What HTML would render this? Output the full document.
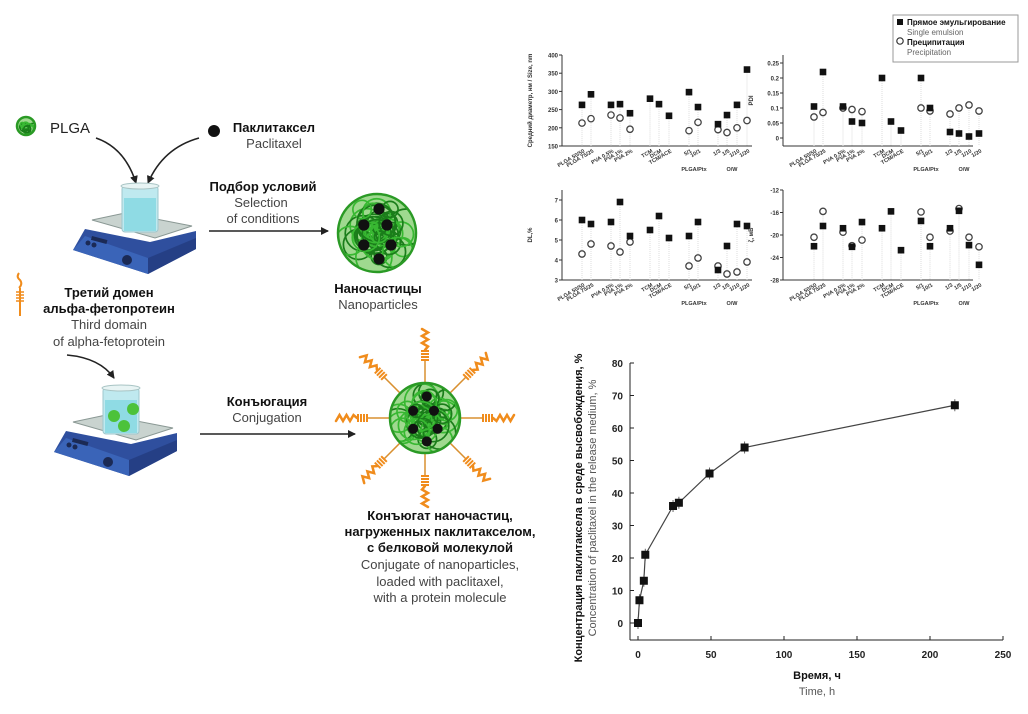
<!DOCTYPE html>
<html><head><meta charset="utf-8"><style>
html,body{margin:0;padding:0;background:#fff}
svg{display:block}
text{font-family:"Liberation Sans","DejaVu Sans",sans-serif}
</style></head><body>
<svg id="s" width="1028" height="714" viewBox="0 0 1028 714" xmlns="http://www.w3.org/2000/svg">
<defs>
<marker id="ah" markerWidth="8" markerHeight="8" refX="7" refY="4" orient="auto" markerUnits="userSpaceOnUse"><path d="M0,0 L8,4 L0,8 Z" fill="#222"/></marker>
<g id="plate">
  <polygon points="85,229 150,242 196,231 196,249 148,274 73,250" fill="#2f4f9e"/>
  <polygon points="73,250 148,274 148,258 85,236" fill="#3a64b8"/>
  <polygon points="148,258 196,238 196,249 148,274" fill="#253f85"/>
  <polygon points="92,220 125,213 192,226 155,238" fill="#c9d3cf" stroke="#8a9894" stroke-width="1"/>
  <rect x="92" y="236" width="16" height="4" fill="#1b2a55" transform="rotate(15 92 236)"/>
  <circle cx="88" cy="243" r="2.5" fill="#1b2a55"/><circle cx="94" cy="245" r="2.5" fill="#1b2a55"/>
  <circle cx="127" cy="260" r="5" fill="#1b2a55"/>
</g>
</defs>
<g id="g"></g>

<text x="50" y="133" font-size="15" fill="#222">PLGA</text>
<circle cx="214" cy="131" r="6" fill="#111"/>
<text x="274" y="132" font-size="13" font-weight="bold" text-anchor="middle" fill="#111">Паклитаксел</text>
<text x="274" y="148" font-size="13" text-anchor="middle" fill="#444">Paclitaxel</text>
<path d="M96,138 Q125,148 136,183" fill="none" stroke="#222" stroke-width="1.6" marker-end="url(#ah)"/>
<path d="M199,138 Q163,148 148,183" fill="none" stroke="#222" stroke-width="1.6" marker-end="url(#ah)"/>

<text x="263" y="191" font-size="13" font-weight="bold" text-anchor="middle" fill="#111">Подбор условий</text>
<text x="261" y="207" font-size="13" text-anchor="middle" fill="#444">Selection</text>
<text x="263" y="223" font-size="13" text-anchor="middle" fill="#444">of conditions</text>
<line x1="209" y1="231" x2="328" y2="231" stroke="#222" stroke-width="1.6" marker-end="url(#ah)"/>
<text x="378" y="293" font-size="13" font-weight="bold" text-anchor="middle" fill="#111">Наночастицы</text>
<text x="378" y="309" font-size="13" text-anchor="middle" fill="#444">Nanoparticles</text>

<text x="109" y="297" font-size="13" font-weight="bold" text-anchor="middle" fill="#111">Третий домен</text>
<text x="109" y="313" font-size="13" font-weight="bold" text-anchor="middle" fill="#111">альфа-фетопротеин</text>
<text x="109" y="329" font-size="13" text-anchor="middle" fill="#444">Third domain</text>
<text x="109" y="346" font-size="13" text-anchor="middle" fill="#444">of alpha-fetoprotein</text>
<path d="M67,355 Q100,358 114,378" fill="none" stroke="#222" stroke-width="1.6" marker-end="url(#ah)"/>
<path d="M19,273 q-3,4 1,7 q3,4 -1,8 M20,288 v28" stroke="#f08c1c" stroke-width="2" fill="none"/>
<path d="M16,292 h8 M16,295 h8 M16,298 h8 M16,301 h8" stroke="#f08c1c" stroke-width="1.5"/>

<text x="267" y="406" font-size="13" font-weight="bold" text-anchor="middle" fill="#111">Конъюгация</text>
<text x="267" y="422" font-size="13" text-anchor="middle" fill="#444">Conjugation</text>
<line x1="200" y1="434" x2="355" y2="434" stroke="#222" stroke-width="1.6" marker-end="url(#ah)"/>

<g font-size="13" text-anchor="middle">
<text x="440" y="520" font-weight="bold" fill="#111">Конъюгат наночастиц,</text>
<text x="440" y="536" font-weight="bold" fill="#111">нагруженных паклитакселом,</text>
<text x="440" y="552" font-weight="bold" fill="#111">с белковой молекулой</text>
<text x="440" y="569" fill="#444">Conjugate of nanoparticles,</text>
<text x="440" y="586" fill="#444">loaded with paclitaxel,</text>
<text x="440" y="602" fill="#444">with a protein molecule</text>
</g>

<use href="#plate"/>
<rect x="122" y="186" width="36" height="46" rx="3" fill="#bfe9ef" stroke="#9fc7cc"/>
<rect x="124" y="198" width="32" height="33" fill="#8fdbe4"/>
<ellipse cx="140" cy="186" rx="19" ry="3" fill="#e8f4f4" stroke="#a8c4c4"/>
<use href="#plate" transform="translate(-19,202)"/>
<rect x="103" y="388" width="36" height="46" rx="3" fill="#bfe9ef" stroke="#9fc7cc"/>
<rect x="105" y="400" width="32" height="33" fill="#8fdbe4"/>
<ellipse cx="121" cy="388" rx="19" ry="3" fill="#e8f4f4" stroke="#a8c4c4"/>
<circle cx="114" cy="416" r="6" fill="#4cc23a"/><circle cx="133" cy="409" r="6" fill="#4cc23a"/><circle cx="124" cy="426" r="6" fill="#4cc23a"/>

<rect x="893" y="15" width="125" height="47" fill="#fff" stroke="#999"/>
<rect x="897" y="19" width="6" height="6" fill="#111"/>
<text x="907" y="25" font-size="8" font-weight="bold" fill="#111">Прямое эмульгирование</text>
<text x="907" y="35" font-size="8" fill="#666">Single emulsion</text>
<circle cx="900" cy="41" r="3.2" fill="none" stroke="#333" stroke-width="1.2"/>
<text x="907" y="45" font-size="8" font-weight="bold" fill="#111">Преципитация</text>
<text x="907" y="55" font-size="8" fill="#666">Precipitation</text>

<line x1="630" y1="363" x2="630" y2="640" stroke="#222"/>
<line x1="630" y1="640" x2="1003" y2="640" stroke="#222"/>
<text x="817" y="679" font-size="11" font-weight="bold" text-anchor="middle" fill="#111">Время, ч</text>
<text x="817" y="695" font-size="11" text-anchor="middle" fill="#555">Time, h</text>
<text transform="translate(582,508) rotate(-90)" font-size="11" font-weight="bold" text-anchor="middle" fill="#111">Концентрация паклитаксела в среде высвобождения, %</text>
<text transform="translate(596,508) rotate(-90)" font-size="11" text-anchor="middle" fill="#555">Concentration of paclitaxel in the release medium, %</text>
</svg>
<script>
var NS="http://www.w3.org/2000/svg",G=document.getElementById('g'),SV=document.getElementById('s');
function el(t,a,p){var e=document.createElementNS(NS,t);for(var k in a)e.setAttribute(k,a[k]);if(a.txt){e.textContent=a.txt;e.removeAttribute('txt');}(p||G).appendChild(e);return e;}
var sd=7;function R(){sd=(sd*9301+49297)%233280;return sd/233280;}
var cid=0;
function ball(cx,cy,r,n,dots){
 var id='c'+(cid++);var cp=el('clipPath',{id:id},SV.querySelector('defs'));el('circle',{cx:cx,cy:cy,r:r},cp);
 el('circle',{cx:cx,cy:cy,r:r,fill:'#9fd98f'});
 var g=el('g',{'clip-path':'url(#'+id+')'});
 for(var i=0;i<n;i++){var a=R()*6.28,d=R()*r*0.8,rr=r*0.15+R()*r*0.35;
  el('circle',{cx:cx+Math.cos(a)*d,cy:cy+Math.sin(a)*d,r:rr,fill:'none',stroke:i%2?'#1a7d1a':'#38b832','stroke-width':1.7},g);}
 el('circle',{cx:cx,cy:cy,r:r-1,fill:'none',stroke:'#2a9a25','stroke-width':2.5});
 if(dots)dots.forEach(function(p){el('circle',{cx:cx+p[0]*r,cy:cy+p[1]*r,r:r*0.14,fill:'#111'});});
}
var D=[[0.05,-0.6],[-0.33,-0.2],[0.25,-0.2],[-0.33,0.3],[0.35,0.3],[0.05,0.65]];
ball(26,126,10,10);
ball(377,233,40,45,D);
var cx=425,cy=418;
for(var i=0;i<8;i++){var a=-Math.PI/2+i*Math.PI/4,c=Math.cos(a),s=Math.sin(a);
 el('line',{x1:cx+c*36,y1:cy+s*36,x2:cx+c*58,y2:cy+s*58,stroke:'#d99030','stroke-width':1.5});
 for(var k=0;k<4;k++){var d=58+k*3;el('line',{x1:cx+c*d-s*4,y1:cy+s*d+c*4,x2:cx+c*d+s*4,y2:cy+s*d-c*4,stroke:'#f08c1c','stroke-width':2});}
 var p='M'+(cx+c*68)+','+(cy+s*68);for(var k=1;k<=6;k++){var d=68+k*3.5,w=(k%2?3:-3);p+=' L'+(cx+c*d-s*w)+','+(cy+s*d+c*w);}
 el('path',{d:p,fill:'none',stroke:'#f08c1c','stroke-width':2.5,'stroke-linecap':'round'});}
ball(cx,cy,36,42,D);

function chart(x0,y0,y1,yt,ylab,fy,sq,ci,xs){
 el('line',{x1:x0,y1:y0,x2:x0,y2:y1,stroke:'#333'});
 el('line',{x1:x0,y1:y1,x2:x0+190,y2:y1,stroke:'#333'});
 yt.forEach(function(v){var y=fy(v);el('line',{x1:x0-3,y1:y,x2:x0,y2:y,stroke:'#333'});el('text',{x:x0-4,y:y+2.5,'font-size':6,'text-anchor':'end','font-weight':'bold',fill:'#333',txt:String(v)});});
 el('text',{transform:'translate('+(x0-30)+','+((y0+y1)/2)+') rotate(-90)','font-size':6,'font-weight':'bold','text-anchor':'middle',fill:'#333',txt:ylab});
 xs.forEach(function(x,i){el('line',{x1:x,y1:fy(Math.max(sq[i],ci[i]==null?-1e9:ci[i]))-3,x2:x,y2:y1,stroke:'#ddd','stroke-dasharray':'1,1'});
  el('text',{transform:'translate('+(x+3)+','+(y1+6)+') rotate(-30)','font-size':5.5,'font-weight':'bold','text-anchor':'end',fill:'#333',txt:['PLGA 50/50','PLGA 75/25','PVA 0.5%','PVA 1%','PVA 2%','TCM','DCM','TCM/ACE','5/1','10/1','1/3','1/5','1/10','1/20'][i]});
  if(ci[i]!=null){el('circle',{cx:x,cy:fy(ci[i]),r:3.2,fill:'#fff',stroke:'#444','stroke-width':1.3});}
  el('rect',{x:x-3.3,y:fy(sq[i])-3.3,width:6.6,height:6.6,fill:'#111'});});
 el('text',{x:xs[8]+5,y:y1+25,'font-size':5.5,'font-weight':'bold','text-anchor':'middle',fill:'#333',txt:'PLGA/Ptx'});
 el('text',{x:xs[11]+5,y:y1+25,'font-size':5.5,'font-weight':'bold','text-anchor':'middle',fill:'#333',txt:'O/W'});
}
var X1=[582,591,611,620,630,650,659,669,689,698,718,727,737,747];
var X2=X1.map(function(x){return x+232;});
var N=null;
chart(562,55,146,[150,200,250,300,350,400],'Средний диаметр, нм / Size, nm',function(v){return 146-(v-150)*0.364;},
 [263,292,263,265,240,280,265,233,298,257,210,235,263,360],[213,225,235,227,196,N,N,N,192,215,195,187,200,220],X1);
chart(783,55,146,[0,0.05,0.1,0.15,0.2,0.25],'PDI',function(v){return 138-v*300;},
 [.105,.22,.105,.055,.05,.2,.055,.025,.2,.1,.02,.015,.005,.015],[.07,.085,.1,.095,.088,N,N,N,.1,.09,.08,.1,.11,.09],X2);
chart(562,190,280,[3,4,5,6,7],'DL,%',function(v){return 280-(v-3)*20;},
 [6,5.8,5.9,6.9,5.2,5.5,6.2,5.1,5.2,5.9,3.5,4.7,5.8,5.7],[4.3,4.8,4.7,4.4,4.9,N,N,N,3.7,4.1,3.7,3.3,3.4,3.9],X1);
chart(783,190,280,[-12,-16,-20,-24,-28],'ζ, мВ',function(v){return 190+(-12-v)*5.625;},
 [-22,-18.4,-18.8,-22.1,-17.7,-18.8,-15.8,-22.7,-17.5,-22,-18.8,-15.7,-21.8,-25.3],[-20.4,-15.8,-19.5,-21.9,-20.9,N,N,N,-15.9,-20.4,-19.3,-15.3,-20.4,-22.1],X2);

function fx(v){return 638+v*1.46;} function fy(v){return 623-v*3.25;}
for(var v=0;v<=80;v+=10){var y=fy(v);el('line',{x1:630,y1:y,x2:634,y2:y,stroke:'#222'});el('text',{x:623,y:y+4,'font-size':10,'font-weight':'bold','text-anchor':'end',fill:'#222',txt:String(v)});}
for(var v=0;v<=250;v+=50){var x=fx(v);el('line',{x1:x,y1:640,x2:x,y2:636,stroke:'#222'});el('text',{x:x,y:658,'font-size':10,'font-weight':'bold','text-anchor':'middle',fill:'#222',txt:String(v)});}
var P=[[0,0],[1,7],[4,13],[5,21],[24,36],[28,37],[49,46],[73,54],[217,67]];
el('polyline',{points:P.map(function(p){return fx(p[0])+','+fy(p[1]);}).join(' '),fill:'none',stroke:'#444','stroke-width':1.2});
P.forEach(function(p){var x=fx(p[0]),y=fy(p[1]);el('line',{x1:x,y1:y-6,x2:x,y2:y+6,stroke:'#666'});el('rect',{x:x-4,y:y-4,width:8,height:8,fill:'#111'});});
</script>
</body></html>
